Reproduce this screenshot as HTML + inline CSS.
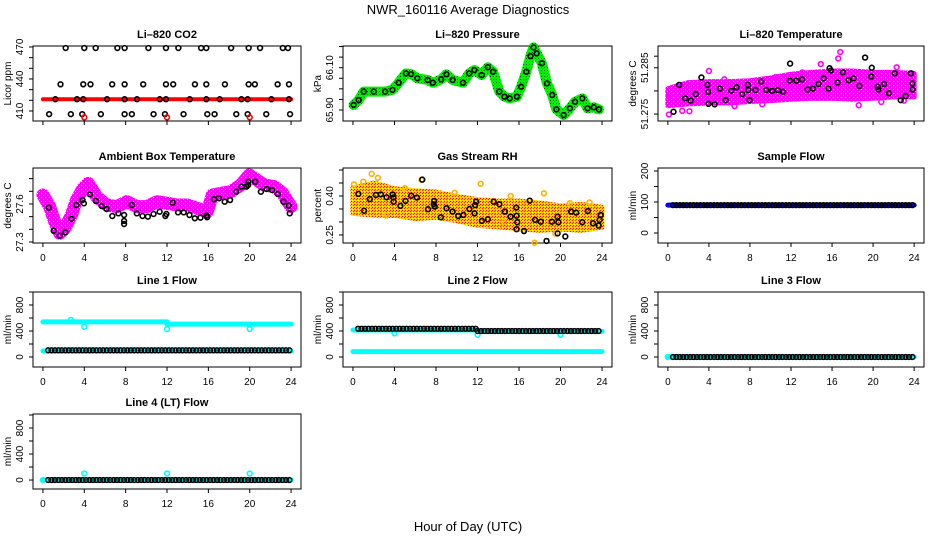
<!DOCTYPE html>
<html><head><meta charset="utf-8">
<style>
html,body{margin:0;padding:0;background:#fff;}
svg{display:block;font-family:"Liberation Sans",Arial,sans-serif;}
</style></head>
<body>
<svg id="chart" width="936" height="540" viewBox="0 0 936 540" xmlns="http://www.w3.org/2000/svg">
<defs>
<pattern id="patMag" width="4" height="4" patternUnits="userSpaceOnUse">
<rect width="4" height="4" fill="#ff00ff"/><rect x="1" y="1" width="1" height="1" fill="#ffffff"/><rect x="3" y="3" width="1" height="1" fill="#ffaaff"/>
</pattern>
<pattern id="patRH" width="3" height="3" patternUnits="userSpaceOnUse">
<rect width="3" height="3" fill="#ffc800"/><rect x="0" y="0" width="1" height="1" fill="#ff0000"/><rect x="2" y="1" width="1" height="1" fill="#ff2000"/><rect x="1" y="2" width="1" height="1" fill="#ffff00"/>
</pattern>
<pattern id="patGreen" width="3" height="3" patternUnits="userSpaceOnUse">
<rect width="3" height="3" fill="#00ee00"/><rect x="1" y="1" width="1" height="1" fill="#006600"/>
</pattern>
</defs>
<text x="468" y="14" font-size="13" text-anchor="middle">NWR_160116  Average Diagnostics</text>
<text x="468" y="531" font-size="13" text-anchor="middle">Hour of Day (UTC)</text>
</svg>
<script>
// ---------- data ----------
const xTicks=[0,4,8,12,16,20,24];
// CO2
const co2BandHours=[0,24];
const co2BandVals=[421,421];
const co2BlackHours=[2.2,4.0,5.1,7.2,7.9,10.2,11.9,13.1,15.3,15.8,18.2,19.9,21.0,23.2,23.7,
 1.7,3.9,4.6,6.7,7.9,9.7,11.9,12.6,14.7,15.8,17.6,19.9,20.5,22.7,23.8,
 1.2,3.3,3.9,6.2,7.9,9.1,11.3,11.9,14.2,15.8,17.1,19.2,19.8,22.1,23.8,
 0.6,2.7,3.8,5.6,7.9,8.6,10.7,11.8,13.6,15.9,16.6,18.7,19.8,21.6,23.9];
const co2BlackVals=[469,469,469,469,469,469,469,469,469,469,469,469,469,469,469,
 435,435,435,435,435,435,435,435,435,435,435,435,435,435,435,
 421,421,421,421,421,421,421,421,421,421,421,421,421,421,421,
 407,407,407,407,407,407,407,407,407,407,407,407,407,407,407];
const co2RedHours=[4,12,20];
const co2RedVals=[404,404,404];
const co2Ticks=[410,420,430,440,450,460,470];
const co2Labels=[410,440,470];
// Pressure
const pressHours=[0.06,0.55,1.04,2.0,3.1,3.8,4.4,5.1,5.6,6.2,7.2,7.7,8.5,9.0,9.6,10.6,11.2,11.7,12.4,13.0,13.5,14.1,14.6,15.1,15.8,16.2,16.7,17.1,17.4,17.7,18.2,18.7,19.2,19.6,20.3,20.9,21.4,22.1,22.6,23.2,23.7];
const pressVals=[65.924,65.947,65.987,65.987,65.987,65.995,66.029,66.073,66.070,66.050,66.042,66.029,66.045,66.069,66.042,66.029,66.073,66.089,66.065,66.102,66.081,65.987,65.963,65.955,65.963,66.010,66.081,66.155,66.196,66.168,66.121,66.026,65.971,65.903,65.876,65.908,65.939,65.955,65.908,65.913,65.903];
const pressTicks=[65.90,65.95,66.00,66.05,66.10,66.15,66.20];
const pressLabels=[65.90,66.10];
// Li-820 temperature
const tempBandHours=[0,2,4,6,8,10,12,14,16,18,20,22,24];
const tempUpper=[51.2805,51.2818,51.2820,51.2820,51.2822,51.2828,51.2836,51.2840,51.2843,51.2843,51.2840,51.2840,51.2838];
const tempLower=[51.2768,51.2772,51.2774,51.2774,51.2777,51.2779,51.2782,51.2784,51.2784,51.2782,51.2784,51.2787,51.2787];
const tempOutHours=[0.1,1.4,2.1,4.0,14.9,16.6,16.8,18.6,22.3,0.2,3.0,10.5,6.5,9.2,13.1,20.8,23.0,5.5];
const tempOutVals=[51.2749,51.2757,51.2756,51.2843,51.2858,51.2870,51.2884,51.2769,51.2851,51.2790,51.2812,51.2830,51.2767,51.2771,51.2840,51.2776,51.2779,51.2825];
const tempBlackHours=[0.55,1.1,1.68,2.23,2.72,3.27,3.85,3.92,3.95,4.56,5.08,5.63,6.18,6.7,7.25,7.8,7.83,7.96,8.54,9.09,9.58,10.16,10.71,11.23,11.88,11.91,12.52,13.07,13.62,14.14,14.69,15.18,15.66,15.76,15.89,16.54,17.06,17.6,18.09,18.67,19.22,19.81,19.87,20.45,20.52,21.07,21.55,22.12,22.69,23.17,23.69,23.82,23.85];
const tempBlackVals=[51.2755,51.2813,51.2784,51.2779,51.2793,51.2829,51.2813,51.2798,51.2772,51.2771,51.2805,51.2780,51.2800,51.2808,51.2793,51.2813,51.2802,51.2780,51.2802,51.2820,51.2802,51.2800,51.2802,51.2798,51.2822,51.2859,51.2822,51.2825,51.2803,51.2805,51.2815,51.2827,51.2805,51.2849,51.2844,51.2818,51.2840,51.2823,51.2827,51.2811,51.2872,51.2831,51.2850,51.2809,51.2803,51.2815,51.2795,51.2838,51.2780,51.2789,51.2838,51.2816,51.2803];
const tempTicks=[51.275,51.280,51.285,51.2875];
const tempLabels=[51.275,51.285];
// Ambient box temperature
const ambHours=[0,0.65,1.14,1.62,2.11,2.76,3.24,3.89,4.38,5.19,6.16,7.14,8.11,9.08,10.05,11.03,12.0,12.97,13.95,14.92,15.89,16.38,17.19,18.16,19.14,19.95,20.43,21.41,22.38,23.19,23.68,24.0];
const ambVals=[27.671,27.579,27.460,27.369,27.408,27.513,27.631,27.724,27.763,27.658,27.592,27.579,27.618,27.579,27.579,27.618,27.605,27.592,27.592,27.566,27.539,27.671,27.684,27.697,27.750,27.829,27.803,27.750,27.737,27.684,27.618,27.579];
const ambBlackHours=[0.58,1.04,1.62,2.17,2.76,3.24,3.83,3.96,4.54,5.12,5.68,6.16,6.71,7.3,7.85,7.85,7.85,8.6,9.08,9.63,10.15,10.7,11.29,11.84,11.94,12.55,13.07,13.62,14.17,14.69,15.24,15.83,15.89,16.54,17.03,17.58,18.1,18.68,19.2,19.69,19.85,19.85,20.53,21.08,21.63,22.15,22.71,23.26,23.78,23.87];
const ambBlackVals=[27.571,27.389,27.350,27.376,27.482,27.592,27.631,27.605,27.676,27.624,27.584,27.560,27.505,27.526,27.513,27.466,27.442,27.592,27.526,27.505,27.500,27.521,27.539,27.505,27.521,27.610,27.534,27.534,27.513,27.487,27.492,27.508,27.495,27.637,27.645,27.618,27.631,27.697,27.737,27.737,27.776,27.750,27.776,27.697,27.718,27.710,27.679,27.618,27.587,27.526];
const ambTicks=[27.3,27.4,27.5,27.6,27.7,27.8];
const ambLabels=[27.3,27.6];
// RH
const rhBandHours=[0,2,4,6,8,10,12,14,16,18,20,22,24];
const rhUpper=[0.430,0.450,0.428,0.420,0.415,0.398,0.386,0.380,0.380,0.373,0.362,0.368,0.356];
const rhLower=[0.333,0.327,0.325,0.313,0.318,0.305,0.287,0.281,0.274,0.268,0.273,0.268,0.280];
const rhOutHours=[1.8,2.4,6.6,12.3,17.5,18.4,0.1,15.2,20.9,1.0,3.2,5.0,9.8,14.5,19.5,22.8];
const rhOutVals=[0.485,0.470,0.462,0.447,0.220,0.410,0.445,0.400,0.372,0.455,0.325,0.430,0.412,0.300,0.255,0.375];
const rhBlackHours=[0.52,1.07,1.62,2.21,2.69,3.24,3.83,3.89,3.92,4.57,5.06,5.61,6.16,6.68,7.23,7.78,7.82,7.88,8.47,9.02,9.6,10.15,10.64,11.22,11.71,11.77,11.87,12.42,13.0,13.56,14.11,14.63,15.18,15.73,15.76,15.83,15.76,16.48,17.03,17.55,18.1,18.65,19.17,19.72,19.79,19.72,20.46,21.02,21.5,22.09,22.64,23.13,23.68,23.77,23.87];
const rhBlackVals=[0.408,0.343,0.388,0.404,0.406,0.395,0.406,0.394,0.378,0.362,0.381,0.401,0.394,0.463,0.349,0.368,0.381,0.359,0.318,0.353,0.340,0.323,0.327,0.350,0.333,0.365,0.378,0.304,0.310,0.378,0.368,0.340,0.320,0.355,0.324,0.299,0.272,0.265,0.382,0.308,0.301,0.227,0.301,0.320,0.299,0.256,0.244,0.340,0.336,0.299,0.342,0.295,0.286,0.308,0.327];
const rhTicks=[0.25,0.30,0.35,0.40,0.45,0.50];
const rhLabels=[0.25,0.40];
// flows: segments [start,end,value]
const sampleBlue=[[0,24,90]];
const sampleBlack=[[0.5,23.9,90]];
const sampleTicks=[0,50,100,150,200];
const sampleLabels=[0,100,200];
const flowTicks=[0,200,400,600,800,1000];
const flowLabels=[0,400,800];
const line1CyanSegs=[[0,12,540],[12,24,505],[0,24,92]];
const line1BlackSegs=[[0.5,23.9,103]];
const line1CyanOutHours=[2.7,4,12,20];
const line1CyanOutVals=[570,465,430,430];
const line2CyanSegs=[[0,12,415],[12,24,395],[0,24,82]];
const line2BlackSegs=[[0.5,12,435],[12,23.9,400]];
const line2CyanOutHours=[4,12,20];
const line2CyanOutVals=[363,340,340];
const line3CyanSegs=[[0,24,0]];
const line3BlackSegs=[[0.5,23.9,0]];
const line3CyanOutHours=[0];
const line3CyanOutVals=[0];
const line4CyanSegs=[[0,24,0]];
const line4BlackSegs=[[0.5,23.9,0]];
const line4CyanOutHours=[0,4,12,20];
const line4CyanOutVals=[0,100,100,100];

// ---------- drawing ----------
const NS="http://www.w3.org/2000/svg";
const svg=document.getElementById('chart');
function el(tag,attrs,parent){const e=document.createElementNS(NS,tag);for(const k in attrs)e.setAttribute(k,attrs[k]);(parent||svg).appendChild(e);return e;}

function makePanel(o){
  const g=el('g',{});
  
  
  const H=75;
  const sx=h=>o.left+(h+0.96)*o.w/25.92;
  const sy=v=>o.top+H-(v-o.ymin)/(o.ymax-o.ymin)*H;
  const t=el('text',{x:o.left+o.w/2,y:o.top-8,'font-size':'11','font-weight':'bold','text-anchor':'middle'},g);
  t.textContent=o.title;
  
  
  const box=el('rect',{x:o.left,y:o.top,width:o.w,height:H,fill:'none',stroke:'#000','stroke-width':1},g);
  
  
  const xa=el('g',{},g);
  
  
  el('line',{x1:sx(0),x2:sx(24),y1:o.top+H,y2:o.top+H,stroke:'#000'},xa);
  xTicks.forEach(v=>{
    el('line',{x1:sx(v),x2:sx(v),y1:o.top+H,y2:o.top+H+4,stroke:'#000'},xa);
    if(o.xlabels){const tl=el('text',{x:sx(v),y:o.top+H+18,'font-size':'10','text-anchor':'middle'},xa);tl.textContent=v;
      
      }
  });
  const ya=el('g',{},g);
  
  
  el('line',{x1:o.left,x2:o.left,y1:sy(o.yticks[0]),y2:sy(o.yticks[o.yticks.length-1]),stroke:'#000'},ya);
  o.yticks.forEach(v=>el('line',{x1:o.left-4,x2:o.left,y1:sy(v),y2:sy(v),stroke:'#000'},ya));
  o.ylabels.forEach(v=>{const x=o.left-10,y=sy(v);
    const tl=el('text',{x:x,y:y,'font-size':'10','text-anchor':'middle',transform:`rotate(-90 ${x} ${y})`},ya);
    tl.textContent=o.fmt?o.fmt(v):v;
    
    });
  const yx=o.left-22,yy=o.top+H/2;
  const yt=el('text',{x:yx,y:yy,'font-size':'10','text-anchor':'middle',transform:`rotate(-90 ${yx} ${yy})`},g);
  yt.textContent=o.ytitle;
  
  
  const clip='c'+o.name;
  const cp=el('clipPath',{id:clip},g);el('rect',{x:o.left,y:o.top-4,width:o.w,height:H+8},cp);
  const data=el('g',{'clip-path':`url(#${clip})`},g);
  
  
  return {g:data,sx,sy};
}
function circles(p,hours,vals,color,name,sw){
  hours.forEach((h,i)=>{const c=el('circle',{cx:p.sx(h),cy:p.sy(vals[i]),r:2.4,fill:'none',stroke:color,'stroke-width':sw||1.6},p.g);
    
    });
}
function line(p,hours,vals,color,width,name){
  const pts=hours.map((h,i)=>p.sx(h)+','+p.sy(vals[i])).join(' ');
  const l=el('polyline',{points:pts,fill:'none',stroke:color,'stroke-width':width,'stroke-linejoin':'round','stroke-linecap':'round'},p.g);
  
  
}
function band(p,hours,up,lo,color,name){
  const pts=hours.map((h,i)=>p.sx(h)+','+p.sy(up[i])).concat(hours.slice().reverse().map((h,j)=>p.sx(h)+','+p.sy(lo[hours.length-1-j]))).join(' ');
  const b=el('polygon',{points:pts,fill:color,stroke:color,'stroke-width':5,'stroke-linejoin':'round'},p.g);
  
  
}
function segs(p,list,color,width,name){list.forEach(s=>line(p,[s[0],s[1]],[s[2],s[2]],color,width,name));}
function segCircles(p,list,color,name){
  list.forEach(s=>{const hs=[];for(let h=s[0];h<=s[1]+1e-6;h+=1/3)hs.push(h);circles(p,hs,hs.map(()=>s[2]),color,name,1.5);});
}
const L1=33,L2=343,L3=658,W1=268,W2=269,W3=266;
const T=[46,168,292,414];

let p=makePanel({name:'co2-panel',title:'Li\u2013820 CO2',left:L1,w:W1,top:T[0],ymin:400.6,ymax:470.9,yticks:co2Ticks,ylabels:co2Labels,ytitle:'Licor ppm'});
line(p,co2BandHours,co2BandVals,'#ff0000',4,'co2-red-series');
circles(p,co2BlackHours,co2BlackVals,'#000','co2-black-point');
circles(p,co2RedHours,co2RedVals,'#ff0000','co2-red-point');

p=makePanel({name:'pressure-panel',title:'Li\u2013820 Pressure',left:L2,w:W2,top:T[0],ymin:65.848,ymax:66.2026,yticks:pressTicks,ylabels:pressLabels,ytitle:'kPa',fmt:v=>v.toFixed(2)});
line(p,pressHours,pressVals,'url(#patGreen)',10,'pressure-green-series');
circles(p,pressHours,pressVals,'#000','pressure-black-point');

p=makePanel({name:'li820-temperature-panel',title:'Li\u2013820 Temperature',left:L3,w:W3,top:T[0],ymin:51.2735,ymax:51.2897,yticks:tempTicks,ylabels:tempLabels,ytitle:'degrees C',fmt:v=>v.toFixed(3)});
band(p,tempBandHours,tempUpper,tempLower,'url(#patMag)','temperature-magenta-band');
circles(p,tempOutHours,tempOutVals,'#ff00ff','temperature-magenta-point');
circles(p,tempBlackHours,tempBlackVals,'#000','temperature-black-point');

p=makePanel({name:'ambient-temperature-panel',title:'Ambient Box Temperature',left:L1,w:W1,top:T[1],ymin:27.292,ymax:27.884,yticks:ambTicks,ylabels:ambLabels,ytitle:'degrees C',xlabels:true});
line(p,ambHours,ambVals,'url(#patMag)',13,'ambient-magenta-series');
circles(p,ambBlackHours,ambBlackVals,'#000','ambient-black-point');

p=makePanel({name:'rh-panel',title:'Gas Stream RH',left:L2,w:W2,top:T[1],ymin:0.219,ymax:0.5077,yticks:rhTicks,ylabels:rhLabels,ytitle:'percent',xlabels:true,fmt:v=>v.toFixed(2)});
band(p,rhBandHours,rhUpper,rhLower,'url(#patRH)','rh-orange-band');
circles(p,rhOutHours,rhOutVals,'#ffb000','rh-orange-point');
circles(p,rhBlackHours,rhBlackVals,'#000','rh-black-point');

p=makePanel({name:'sample-flow-panel',title:'Sample Flow',left:L3,w:W3,top:T[1],ymin:-32.3,ymax:209.7,yticks:sampleTicks,ylabels:sampleLabels,ytitle:'ml/min',xlabels:true});
segs(p,sampleBlue,'#0000ff',5,'sample-flow-blue-series');
segCircles(p,sampleBlack,'#000','sample-flow-black-point');

function flowPanel(name,title,left,w,top,cy,bl,oh,ov,ymin,ymax){
  const q=makePanel({name:name,title:title,left:left,w:w,top:top,ymin:ymin,ymax:ymax,yticks:flowTicks,ylabels:flowLabels,ytitle:'ml/min',xlabels:true});
  segs(q,cy,'#00ffff',5,'cyan-flow-series');
  circles(q,oh,ov,'#00ffff','cyan-flow-point');
  segCircles(q,bl,'#000','black-flow-point');
}
flowPanel('line1-flow-panel','Line 1 Flow',L1,W1,T[2],line1CyanSegs,line1BlackSegs,line1CyanOutHours,line1CyanOutVals,-154,1000);
flowPanel('line2-flow-panel','Line 2 Flow',L2,W2,T[2],line2CyanSegs,line2BlackSegs,line2CyanOutHours,line2CyanOutVals,-154,1000);
flowPanel('line3-flow-panel','Line 3 Flow',L3,W3,T[2],line3CyanSegs,line3BlackSegs,line3CyanOutHours,line3CyanOutVals,-154,1000);
flowPanel('line4-flow-panel','Line 4 (LT) Flow',L1,W1,T[3],line4CyanSegs,line4BlackSegs,line4CyanOutHours,line4CyanOutVals,-138,1015);
</script>
</body></html>
